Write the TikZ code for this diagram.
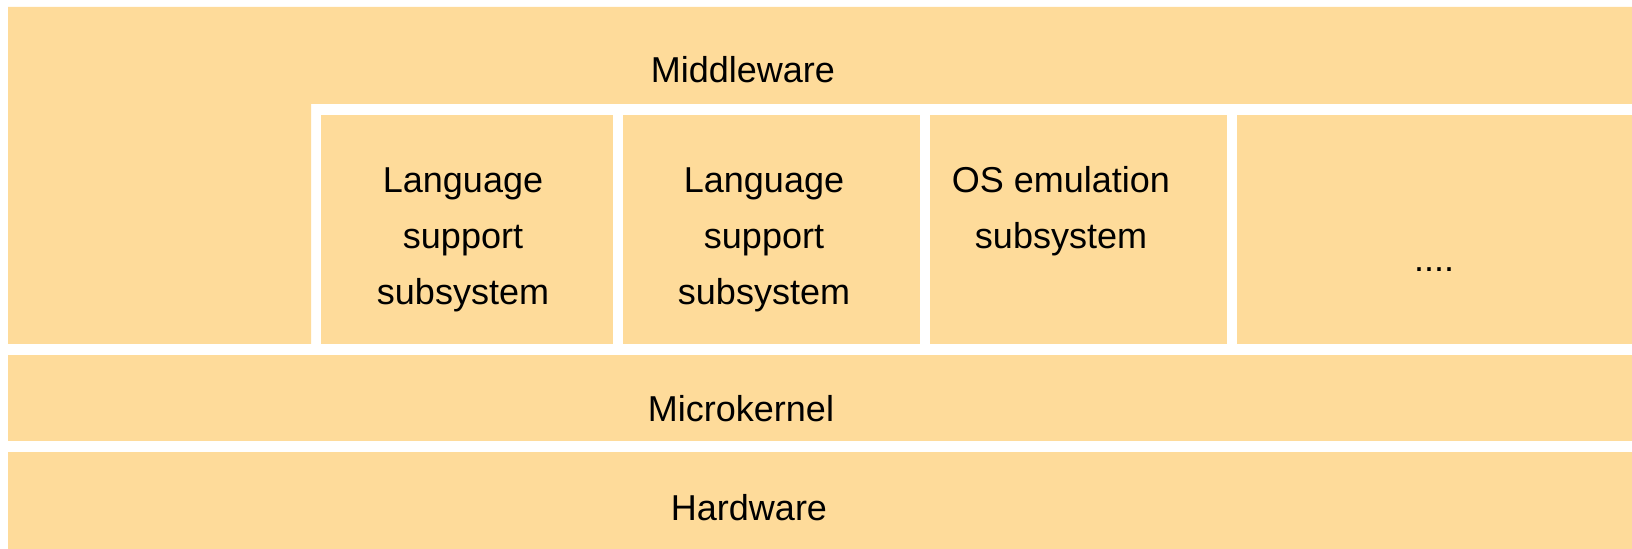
\documentclass[tikz,border=0pt]{standalone}
\usepackage{fontspec}
\setmainfont{Liberation Sans}
\usepackage{tikz}
\definecolor{layerfill}{RGB}{254,219,154}

\begin{document}
\begin{tikzpicture}
		[x=0.5pt,y=-0.5pt,
		layer/.style={fill=layerfill,draw=none},
		labelstyle/.style={inner sep=0pt,font=\fontsize{18}{28.2}\selectfont},
		multistyle/.style={labelstyle,align=center,anchor=north}]
		\useasboundingbox (0,0) rectangle (1632,549);
		% middleware (L shape) and its subsystems
		\fill[layer] (8,7) -| (1632,104) -| (311,344) -| cycle;
		\fill[layer] (321,115) rectangle (613,344);
		\fill[layer] (623,115) rectangle (920,344);
		\fill[layer] (930,115) rectangle (1227,344);
		\fill[layer] (1237,115) rectangle (1632,344);
		% lower layers
		\fill[layer] (8,355) rectangle (1632,441);
		\fill[layer] (8,452) rectangle (1632,549);
		\node at (743, 83) (mw) [labelstyle,anchor=base] {Middleware};
		\node at (463, 167) (lang1) [multistyle] {Language\\support\\subsystem};
		\node at (764, 167) (lang2) [multistyle] {Language\\support\\subsystem};
		\node at (1061, 166) (osemu) [multistyle] {OS emulation\\subsystem};
		\node at (1434, 272) (more) [labelstyle,anchor=base] {....};
		\node at (741, 422) (mk) [labelstyle,anchor=base] {Microkernel};
		\node at (749, 521) (hw) [labelstyle,anchor=base] {Hardware};
	\end{tikzpicture}
\end{document}
